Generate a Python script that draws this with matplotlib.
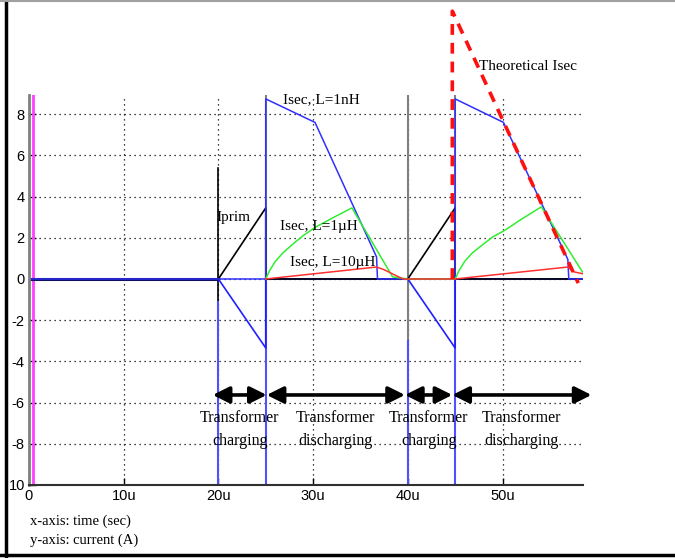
import matplotlib
matplotlib.use("Agg")
import matplotlib.pyplot as plt
from matplotlib.lines import Line2D

# time in microseconds, current in amperes
t_prim = [0, 20, 25, 25, 40, 45, 45, 58.5]
i_prim = [0, 0, 3.45, 0, 0, 3.45, 0, 0]

t_neg = [0, 20, 25, 25, 40, 45, 45, 58.5]
i_neg = [0, 0, -3.35, 0, 0, -3.35, 0, 0]

t_1nh = [0, 25, 25, 30.2, 36.7, 36.8, 40, 45, 45, 50.1, 56.9, 57.0, 58.5]
i_1nh = [0, 0, 8.74, 7.6, 1.07, 0, 0, 0, 8.74, 7.6, 0.95, 0, 0]

t_1uh = [25, 25.4, 26, 26.8, 28, 29, 30.2, 32, 34.1, 38.4, 40,
         45, 45.4, 46, 46.8, 48, 49, 50.2, 52, 54.1, 58.5]
i_1uh = [0, 0.4, 0.85, 1.26, 1.75, 2.12, 2.5, 2.95, 3.45, 0.1, 0,
         0, 0.4, 0.85, 1.26, 1.7, 2.05, 2.35, 2.9, 3.5, 0.3]

t_10uh = [25, 36.7, 37.5, 38.6, 39.5, 45, 56.9, 57.5, 58.5]
i_10uh = [0, 0.58, 0.45, 0.2, 0, 0, 0.58, 0.35, 0.25]

t_theory = [44.7, 44.7, 58.0]
i_theory = [0, 13.0, -0.2]

# off-scale vertical traces: (time, low, high)
gray_marks = [(25, 0, 8.93), (40, -3.0, 8.93), (45, 0, 8.93)]
black_marks = [(20, -1.1, 5.4)]
blue_marks = [(20, -10, -1.1), (25, -10, 0), (40, -10, -3.0), (45, -10, 0)]
magenta_mark = 0.45

phase_spans = [(19.4, 25.1), (25.1, 39.7), (39.7, 44.7), (44.7, 59.4)]
phase_labels = ["Transformer\ncharging", "Transformer\ndischarging",
                "Transformer\ncharging", "Transformer\ndischarging"]

x_ticks = [0, 10, 20, 30, 40, 50]
x_labels = ["0", "10u", "20u", "30u", "40u", "50u"]
y_ticks = [8, 6, 4, 2, 0, -2, -4, -6, -8, -10]
y_labels = ["8", "6", "4", "2", "0", "-2", "-4", "-6", "-8", "10"]

serif = ["Liberation Serif", "DejaVu Serif"]
sans = ["Liberation Sans", "DejaVu Sans"]

fig = plt.figure(figsize=(6.75, 5.58), dpi=100)
ax = fig.add_axes([29 / 675, 1 - 485 / 558, 554 / 675, 390 / 558])
ax.set_xlim(0, 58.5)
ax.set_ylim(-10, 8.93)

ax.set_xticks(x_ticks)
ax.set_xticklabels(x_labels, family=sans, fontsize=10.5)
ax.set_yticks(y_ticks)
ax.set_yticklabels(y_labels, family=sans, fontsize=10.5)
ax.tick_params(direction="in", length=5, width=1, color="black", pad=3)

ax.grid(True, color="black", linestyle=(0, (1, 3)), linewidth=0.9)
for s in ["top", "right"]:
    ax.spines[s].set_visible(False)
ax.spines["left"].set_color("#808080")
ax.spines["left"].set_linewidth(2)
ax.spines["bottom"].set_color("#303030")
ax.spines["bottom"].set_linewidth(1.5)

ax.axvline(magenta_mark, color="#ff40ff", lw=2)
for x, lo, hi in gray_marks:
    ax.plot([x, x], [lo, hi], color="#808080", lw=1.5)
for x, lo, hi in black_marks:
    ax.plot([x, x], [lo, hi], color="black", lw=1.2)
for x, lo, hi in blue_marks:
    ax.plot([x, x], [lo, hi], color="#5050ff", lw=1.5)

ax.plot([0, 20], [0, 0], color="#101060", lw=2.2)
ax.plot(t_neg, i_neg, color="#2020ff", lw=1.2)
ax.plot(t_prim, i_prim, color="black", lw=1.2)
ax.plot(t_1nh, i_1nh, color="#3030ff", lw=1.1)
ax.plot(t_1uh, i_1uh, color="#30ee30", lw=1.1)
ax.plot(t_10uh, i_10uh, color="#ff3030", lw=1.1)
ax.plot(t_theory, i_theory, color="#ff1010", lw=2.6,
        linestyle=(0, (3, 2.2)), clip_on=False)

ax.text(19.8, 2.96, "Iprim", family=serif, fontsize=11, va="center")
ax.text(26.8, 8.7, "Isec, L=1nH", family=serif, fontsize=11, va="center")
ax.text(26.5, 2.57, "Isec, L=1\u00b5H", family=serif, fontsize=11, va="center")
ax.text(27.6, 0.78, "Isec, L=10\u00b5H", family=serif, fontsize=11, va="center")
ax.text(47.5, 10.3, "Theoretical Isec", family=serif, fontsize=11,
        va="center", clip_on=False)

for (a, b), lab in zip(phase_spans, phase_labels):
    ax.annotate("", xy=(b, -5.63), xytext=(a, -5.63),
                arrowprops=dict(arrowstyle="<|-|>,head_length=0.5,head_width=0.25",
                                color="black", lw=2.6, mutation_scale=20,
                                shrinkA=0, shrinkB=0),
                annotation_clip=False)
    ax.text((a + b) / 2, -7.31, lab, family=serif, fontsize=11.5,
            ha="center", va="center", linespacing=1.6)

fig.text(30 / 675, 1 - 521 / 558, "x-axis: time (sec)", family=serif,
         fontsize=10.5, va="center")
fig.text(30 / 675, 1 - 540 / 558, "y-axis: current (A)", family=serif,
         fontsize=10.5, va="center")

# outer frame
fig.add_artist(Line2D([6 / 675, 6 / 675], [0, 1], color="black", lw=2.5))
fig.add_artist(Line2D([0, 1], [3 / 558, 3 / 558], color="black", lw=2.5))
fig.add_artist(Line2D([0, 1], [1 - 0.5 / 558, 1 - 0.5 / 558],
                      color="#a0a0a0", lw=1.5))

fig.savefig("out.png", dpi=100)
